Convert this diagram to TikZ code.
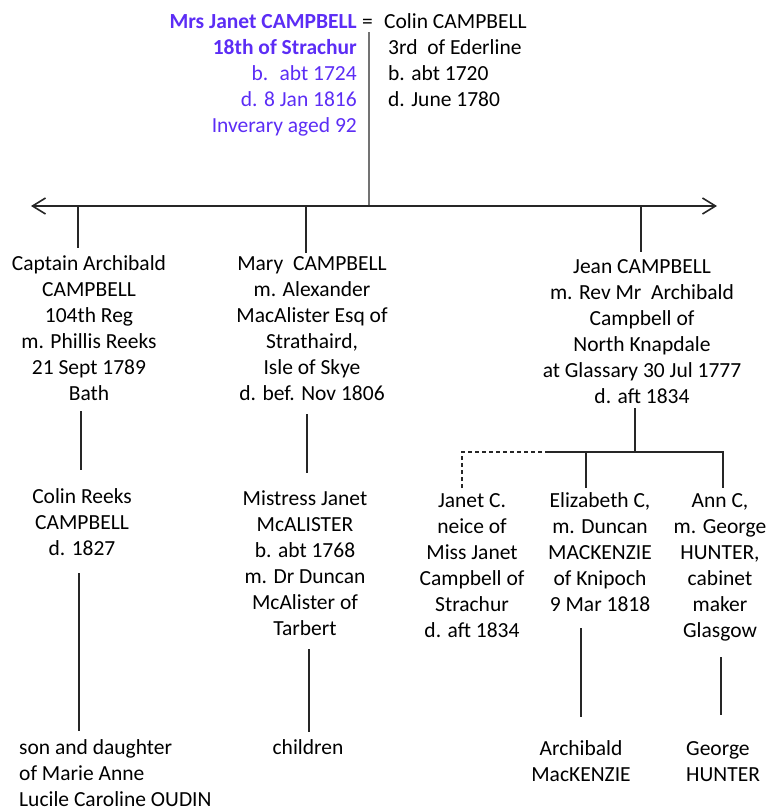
\documentclass[tikz,border=0pt]{standalone}
\usepackage{fontspec}
\setmainfont{Carlito}
\usetikzlibrary{arrows.meta}
\definecolor{purp}{RGB}{92,45,245}
\newcommand\txtsize{\fontsize{21.5}{26}\selectfont}
\tikzset{
  person/.style={align=center, inner sep=0pt, anchor=north, font=\txtsize},
  personl/.style={align=left, inner sep=0pt, anchor=north west, font=\txtsize},
  link/.style={draw=black!85, line width=1.1pt},
  mainlink/.style={draw=black!85, line width=1.6pt},
  toplink/.style={draw=black!55, line width=1.6pt},
  dashlink/.style={draw=black!85, line width=1.1pt, dash pattern=on 4pt off 3pt},
}
\begin{document}
\begin{tikzpicture}[x=1pt,y=-1pt]
\useasboundingbox (0,0) rectangle (774,807);
% top couple
\node[inner sep=0pt, anchor=north east, align=right, font=\txtsize, text=purp] (janet) at (357,10)
  {\strut\textbf{Mrs Janet CAMPBELL}\\ \textbf{18th of Strachur}\\ b.~ abt 1724\\ d. 8 Jan 1816\hspace*{5pt}\\ Inverary aged 92};
\node[inner sep=0pt, anchor=north, font=\txtsize] (eq) at (367.5,10) {\strut=};
\node[personl] (colin) at (384,10)
  {\strut Colin CAMPBELL\\ \hspace*{4pt}3rd~ of Ederline\\ \hspace*{4pt}b. abt 1720\\ \hspace*{4pt}d. June 1780};
% generation 1
\node[person] (arch) at (89,252)
  {\strut Captain Archibald\\ CAMPBELL\\ 104th Reg\\ m. Phillis Reeks\\ 21 Sept 1789\\ Bath};
\node[person] (mary) at (312,252)
  {\strut Mary~ CAMPBELL\\ m. Alexander\\ MacAlister Esq of\\ Strathaird,\\ Isle of Skye\\ d. bef. Nov 1806};
\node[person] (jean) at (642,255)
  {\strut Jean CAMPBELL\\ m. Rev Mr~ Archibald\\ Campbell of\\ North Knapdale\\ at Glassary 30 Jul 1777\\ d. aft 1834};
% generation 2
\node[person] (colinr) at (82,485)
  {\strut Colin Reeks\\ CAMPBELL\\ d. 1827};
\node[person] (mistress) at (305,487)
  {\strut Mistress Janet\\ McALISTER\\ b. abt 1768\\ m. Dr Duncan\\ McAlister of\\ Tarbert};
\node[person] (janetc) at (472,489)
  {\strut Janet C.\\ neice of\\ Miss Janet\\ Campbell of\\ Strachur\\ d. aft 1834};
\node[person] (eliz) at (600,489)
  {\strut Elizabeth C,\\ m. Duncan\\ MACKENZIE\\ of Knipoch\\ 9 Mar 1818};
\node[person] (ann) at (720,489)
  {\strut Ann C,\\ m. George\\ HUNTER,\\ cabinet\\ maker\\ Glasgow};
% generation 3
\node[personl] (son) at (19,736)
  {\strut son and daughter\\ of Marie Anne\\ Lucile Caroline OUDIN};
\node[person] (children) at (308,736) {\strut children};
\node[person] (archm) at (581,737) {\strut Archibald\\ MacKENZIE};
\node[personl] (george) at (686,737) {\strut George\\ HUNTER};
% coordinates
\coordinate (cpl) at (369,32);
\coordinate (barL) at (31,206);
\coordinate (barR) at (717,206);
\coordinate (barM) at (369,206);
\coordinate (b1) at (78,206);   \coordinate (a1) at (78,248);
\coordinate (b2) at (306,206);  \coordinate (a2) at (306,253);
\coordinate (b3) at (641,206);  \coordinate (a3) at (641,252);
\coordinate (c1t) at (81,411);  \coordinate (c1b) at (81,470);
\coordinate (c2t) at (307,414); \coordinate (c2b) at (307,473);
\coordinate (j1) at (635,408);  \coordinate (j2) at (635,452);
\coordinate (hL) at (462,452);  \coordinate (hD) at (545,452); \coordinate (hR) at (723,452);
\coordinate (e1) at (586,452);  \coordinate (e2) at (586,488);
\coordinate (d1) at (462,488);
\coordinate (n2) at (723,488);
\coordinate (k1t) at (79,573);  \coordinate (k1b) at (79,731);
\coordinate (k2t) at (309,649); \coordinate (k2b) at (309,732);
\coordinate (k3t) at (581,628); \coordinate (k3b) at (581,717);
\coordinate (k4t) at (721,657); \coordinate (k4b) at (721,715);
% connectors
\draw[toplink] (cpl) -- (barM);
\draw[mainlink, {Straight Barb[length=13pt,width=16pt]}-{Straight Barb[length=13pt,width=16pt]}] (barL) -- (barR);
\draw[link] (b1) -- (a1);
\draw[link] (b2) -- (a2);
\draw[link] (b3) -- (a3);
\draw[link] (c1t) -- (c1b);
\draw[link] (c2t) -- (c2b);
\draw[link] (j1) -- (j2);
\draw[dashlink] (d1) -- (hL) -- (hD);
\draw[link] (hD) -- (hR) -- (n2);
\draw[link] (e1) -- (e2);
\draw[link] (k1t) -- (k1b);
\draw[link] (k2t) -- (k2b);
\draw[link] (k3t) -- (k3b);
\draw[link] (k4t) -- (k4b);
\end{tikzpicture}
\end{document}
